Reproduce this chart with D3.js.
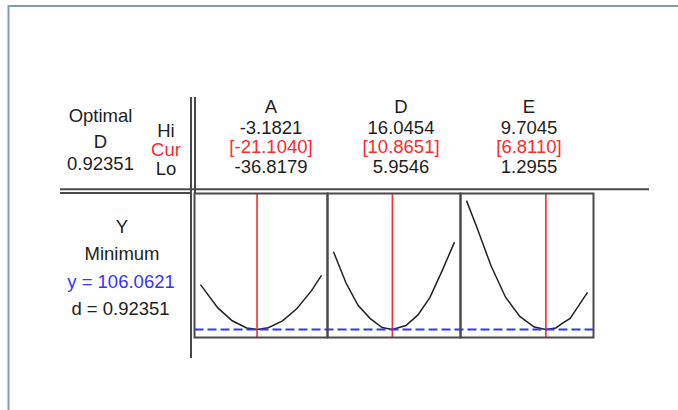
<!DOCTYPE html>
<html>
<head>
<meta charset="utf-8">
<script src="https://cdn.jsdelivr.net/npm/d3@7/dist/d3.min.js"></script>
<style>
  html, body { margin: 0; padding: 0; background: #fff; }
  svg { display: block; }
  text { font-family: "Liberation Sans", Arial, sans-serif; font-size: 18.5px; fill: #1e1e1e; }
</style>
</head>
<body>
<svg id="chart" width="678" height="410"></svg>
<script>
// ---------- DATA ----------
const factors   = ["A", "D", "E"];
const hiValues  = [-3.1821, 16.0454, 9.7045];
const curValues = [-21.1040, 10.8651, 6.8110];
const loValues  = [-36.8179, 5.9546, 1.2955];
const hiLabels  = ["-3.1821", "16.0454", "9.7045"];
const curLabels = ["[-21.1040]", "[10.8651]", "[6.8110]"];
const loLabels  = ["-36.8179", "5.9546", "1.2955"];

const optimalLabel = ["Optimal", "D", "0.92351"];
const rowLabels = ["Hi", "Cur", "Lo"];

const responseName = "Y";
const responseGoal = "Minimum";
const predictedY = 106.0621;
const desirability = 0.92351;

// response curves (factor value, predicted response)
const curveA_x = [-36.8179, -32, -28, -24, -21.104, -18, -14, -10, -6, -3.1821];
const curveA_y = [139.8, 122.3, 112.6, 107.2, 106.06, 107.3, 112.5, 121.8, 135.1, 146.8];
const curveD_x = [5.9546, 7, 8, 9, 10, 10.8651, 12, 13, 14, 15, 16.0454];
const curveD_y = [164.5, 141.0, 124.2, 114.4, 107.5, 106.06, 109.0, 117.0, 130.2, 150.0, 171.8];
const curveE_x = [1.2955, 2, 3, 4, 5, 6, 6.811, 7.5, 8, 8.5, 9, 9.7045];
const curveE_y = [203.0, 183.3, 154.0, 130.5, 115.9, 107.9, 106.06, 107.2, 111.0, 114.4, 122.5, 134.0];
const curvesX = [curveA_x, curveD_x, curveE_x];
const curvesY = [curveA_y, curveD_y, curveE_y];
const yDomain = [100, 208];

// ---------- LAYOUT ----------
const svg = d3.select("#chart");
const gray = "#4a4a4a";
const red = "#ff2a2a";
const blue = "#3535ff";

// outer frame
svg.append("rect").attr("x", 8.5).attr("y", 6).attr("width", 720).attr("height", 450)
  .attr("fill", "none").attr("stroke", "#8799b6").attr("stroke-width", 2);

const boxTop = 193.5, boxBottom = 337.5;
const band = d3.scaleBand().domain(factors).range([194.5, 593.5]).padding(0);
const y = d3.scaleLinear().domain(yDomain).range([boxBottom, 194]);

// separator lines
function line(x1, y1, x2, y2, w) {
  svg.append("line").attr("x1", x1).attr("y1", y1).attr("x2", x2).attr("y2", y2)
    .attr("stroke", gray).attr("stroke-width", w || 2);
}
line(191, 97, 191, 358);
line(195, 97, 195, boxTop);
line(60, 189.2, 649, 189.2);
line(60, 193, 191, 193);

// panels
factors.forEach((f, i) => {
  const x0 = band(f), x1 = x0 + band.bandwidth();
  const xs = d3.scaleLinear().domain([loValues[i], hiValues[i]]).range([x0 + 6, x1 - 6]);
  const g = svg.append("g");
  const pts = curvesX[i].map((v, k) => [v, curvesY[i][k]]);
  g.append("path").datum(pts)
    .attr("d", d3.line().x(d => xs(d[0])).y(d => y(d[1])))
    .attr("fill", "none").attr("stroke", "#222").attr("stroke-width", 1.5);
  g.append("line").attr("x1", xs(curValues[i])).attr("x2", xs(curValues[i]))
    .attr("y1", boxTop).attr("y2", boxBottom)
    .attr("stroke", red).attr("stroke-width", 1.6);
});

// predicted response dashed line
svg.append("line").attr("x1", band.range()[0]).attr("x2", band.range()[1])
  .attr("y1", y(predictedY)).attr("y2", y(predictedY))
  .attr("stroke", blue).attr("stroke-width", 2).attr("stroke-dasharray", "9,4");

// panel boxes
factors.forEach(f => {
  svg.append("rect").attr("x", band(f)).attr("y", boxTop)
    .attr("width", band.bandwidth()).attr("height", boxBottom - boxTop)
    .attr("fill", "none").attr("stroke", gray).attr("stroke-width", 2);
});

// ---------- TEXT ----------
function txt(s, x, yy, color) {
  svg.append("text").attr("x", x).attr("y", yy).attr("text-anchor", "middle")
    .style("fill", color || "#1e1e1e").text(s);
}
const optY = [121.5, 147.5, 169.5];
optimalLabel.forEach((s, i) => txt(s, 100.5, optY[i]));
const rowY = [136.5, 155.5, 175];
rowLabels.forEach((s, i) => txt(s, 166, rowY[i], i === 1 ? red : null));

const colX = [271, 401, 529];
const hdrY = [113, 133.5, 153, 172.5];
factors.forEach((f, i) => {
  txt(f, colX[i], hdrY[0]);
  txt(hiLabels[i], colX[i], hdrY[1]);
  txt(curLabels[i], colX[i], hdrY[2], red);
  txt(loLabels[i], colX[i], hdrY[3]);
});

txt(responseName, 122, 233);
txt(responseGoal, 122, 260);
txt("y = " + predictedY.toFixed(4), 121, 287.5, blue);
txt("d = " + desirability.toFixed(5), 120.5, 315);
</script>
</body>
</html>
